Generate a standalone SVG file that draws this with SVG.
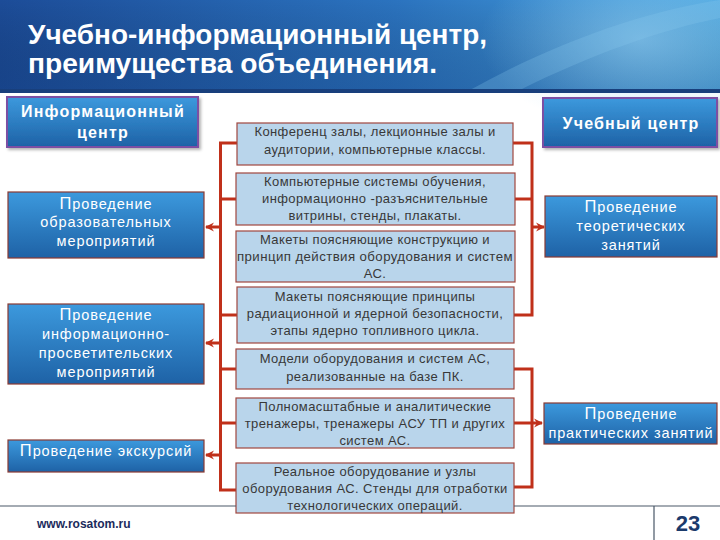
<svg xmlns="http://www.w3.org/2000/svg" width="720" height="540" viewBox="0 0 720 540">
<defs>
<linearGradient id="hdr" x1="0" y1="0" x2="1" y2="0">
<stop offset="0" stop-color="#1C4C98"/>
<stop offset="0.55" stop-color="#2B73BF"/>
<stop offset="1" stop-color="#4AA6E0"/>
</linearGradient>
<linearGradient id="hdrv" x1="0" y1="0" x2="0" y2="1">
<stop offset="0" stop-color="#000" stop-opacity="0"/>
<stop offset="1" stop-color="#0A2A60" stop-opacity="0.25"/>
</linearGradient>
<radialGradient id="swoosh" cx="0.5" cy="0.5" r="0.5">
<stop offset="0" stop-color="#9FD6F5" stop-opacity="0.55"/>
<stop offset="1" stop-color="#9FD6F5" stop-opacity="0"/>
</radialGradient>
<linearGradient id="blue" x1="0" y1="0" x2="0" y2="1">
<stop offset="0" stop-color="#3C99DD"/>
<stop offset="1" stop-color="#1E62A6"/>
</linearGradient>
<marker id="ah" markerWidth="10" markerHeight="10" refX="8" refY="5" orient="auto" markerUnits="userSpaceOnUse">
<path d="M0,0.5 L9,5 L0,9.5 L3,5 Z" fill="#C0301A"/>
</marker>
<filter id="sh" x="-5%" y="-5%" width="115%" height="125%">
<feDropShadow dx="2" dy="2" stdDeviation="1.5" flood-color="#000" flood-opacity="0.3"/>
</filter>
</defs>
<style>
.bb{fill:url(#blue);stroke:#8A3A32;stroke-width:1.2}
.hb{fill:url(#blue);stroke:#7B4FA3;stroke-width:2}
.cb{fill:#B9D5EB;stroke:#A0473F;stroke-width:1.2}
.wt{font-family:"Liberation Sans",Arial,sans-serif;font-size:14.5px;fill:#fff;text-anchor:middle;letter-spacing:0.9px}
.ht{font-family:"Liberation Sans",Arial,sans-serif;font-size:16px;font-weight:bold;fill:#fff;text-anchor:middle;letter-spacing:1.2px}
.ct{font-family:"Liberation Sans",Arial,sans-serif;font-size:13px;fill:#383838;text-anchor:middle;letter-spacing:0.4px}
.big{font-size:16.5px}
.conn{fill:none;stroke:#C0301A;stroke-width:3}
.title{font-family:"Liberation Sans",Arial,sans-serif;font-size:27px;font-weight:bold;fill:#fff}
</style>
<rect x="0" y="0" width="720" height="540" fill="#fff"/>
<g id="header">
<rect x="0" y="0" width="720" height="90" fill="url(#hdr)"/>
<rect x="0" y="0" width="720" height="90" fill="url(#hdrv)"/>
<ellipse cx="640" cy="40" rx="160" ry="90" fill="url(#swoosh)"/>
<path d="M470,90 C560,40 650,10 720,0 L720,18 C660,30 590,55 520,90 Z" fill="#8CCBF0" opacity="0.25"/>
<rect x="0" y="89" width="720" height="4" fill="#183F7C"/>
<text class="title" x="28" y="44" textLength="459" lengthAdjust="spacingAndGlyphs">Учебно-информационный центр,</text>
<text class="title" x="28" y="73" textLength="409" lengthAdjust="spacingAndGlyphs">преимущества объединения.</text>
</g>
<g id="connectors">
<path class="conn" d="M237,143 H220.5 V490 H237"/>
<path class="conn" d="M220.5,199 H236"/>
<path class="conn" d="M220.5,315 H237"/>
<path class="conn" d="M220.5,369 H236"/>
<path class="conn" d="M220.5,423 H236"/>
<path class="conn" d="M220.5,227 H206" marker-end="url(#ah)"/>
<path class="conn" d="M220.5,343 H206" marker-end="url(#ah)"/>
<path class="conn" d="M220.5,455 H206" marker-end="url(#ah)"/>
<path class="conn" d="M513,143 H532 V315 H514"/>
<path class="conn" d="M515,199 H532"/>
<path class="conn" d="M532,227 H544" marker-end="url(#ah)"/>
<path class="conn" d="M514,369 H532 V487 H514"/>
<path class="conn" d="M514,423 H542" marker-end="url(#ah)"/>
</g>
<g id="info-center">
<rect class="hb" x="7" y="97" width="191" height="50" filter="url(#sh)"/>
<text class="ht" x="103" y="117">Информационный</text>
<text class="ht" x="103" y="138">центр</text>
</g>
<g id="left-1">
<rect class="bb" x="8" y="192" width="196" height="66"/>
<text class="wt" x="106" y="209"><tspan class="big">П</tspan>роведение</text>
<text class="wt" x="106" y="227">образовательных</text>
<text class="wt" x="106" y="246">мероприятий</text>
</g>
<g id="left-2">
<rect class="bb" x="8" y="304" width="196" height="80"/>
<text class="wt" x="106" y="320"><tspan class="big">П</tspan>роведение</text>
<text class="wt" x="106" y="339">информационно-</text>
<text class="wt" x="106" y="358">просветительских</text>
<text class="wt" x="106" y="377">мероприятий</text>
</g>
<g id="left-3">
<rect class="bb" x="8" y="440" width="196" height="32"/>
<text class="wt" x="106" y="456"><tspan class="big">П</tspan>роведение экскурсий</text>
</g>
<g id="c1">
<rect class="cb" x="237" y="123" width="276" height="42"/>
<text class="ct" x="375" y="136">Конференц залы, лекционные залы и</text>
<text class="ct" x="375" y="154">аудитории, компьютерные классы.</text>
</g>
<g id="c2">
<rect class="cb" x="236" y="173" width="279" height="52"/>
<text class="ct" x="375" y="186">Компьютерные системы обучения,</text>
<text class="ct" x="375" y="203">информационно -разъяснительные</text>
<text class="ct" x="375" y="220">витрины, стенды, плакаты.</text>
</g>
<g id="c3">
<rect class="cb" x="236" y="231" width="279" height="51"/>
<text class="ct" x="375" y="244">Макеты поясняющие конструкцию и</text>
<text class="ct" x="375" y="261" textLength="276" lengthAdjust="spacingAndGlyphs">принцип действия оборудования и систем</text>
<text class="ct" x="375" y="278">АС.</text>
</g>
<g id="c4">
<rect class="cb" x="237" y="287" width="277" height="56"/>
<text class="ct" x="375" y="301">Макеты поясняющие принципы</text>
<text class="ct" x="375" y="318">радиационной и ядерной безопасности,</text>
<text class="ct" x="375" y="335">этапы ядерно топливного цикла.</text>
</g>
<g id="c5">
<rect class="cb" x="236" y="349" width="278" height="40"/>
<text class="ct" x="375" y="363">Модели оборудования и систем  АС,</text>
<text class="ct" x="375" y="381">реализованные на базе ПК.</text>
</g>
<g id="c6">
<rect class="cb" x="236" y="398" width="278" height="50"/>
<text class="ct" x="375" y="411">Полномасштабные и аналитические</text>
<text class="ct" x="375" y="428">тренажеры, тренажеры АСУ ТП и других</text>
<text class="ct" x="375" y="445">систем АС.</text>
</g>
<g id="c7">
<rect class="cb" x="236" y="463" width="278" height="50"/>
<text class="ct" x="375" y="476">Реальное оборудование и узлы</text>
<text class="ct" x="375" y="493">оборудования АС. Стенды для отработки</text>
<text class="ct" x="375" y="510">технологических операций.</text>
</g>
<g id="study-center">
<rect class="hb" x="543" y="98" width="174" height="49" filter="url(#sh)"/>
<text class="ht" x="631" y="129">Учебный центр</text>
</g>
<g id="right-1">
<rect class="bb" x="545" y="196" width="172" height="61"/>
<text class="wt" x="631" y="212"><tspan class="big">П</tspan>роведение</text>
<text class="wt" x="631" y="231">теоретических</text>
<text class="wt" x="631" y="250">занятий</text>
</g>
<g id="right-2">
<rect class="bb" x="544" y="403" width="173" height="41"/>
<text class="wt" x="631" y="419"><tspan class="big">П</tspan>роведение</text>
<text class="wt" x="631" y="438">практических занятий</text>
</g>
<g id="footer">
<path d="M0,506 H236 M514,506 H720 M654,506 V540" stroke="#4A5868" stroke-width="1.2" fill="none"/>
<text x="37" y="528" font-family="'Liberation Sans',Arial,sans-serif" font-size="12" font-weight="bold" fill="#1B2B5C">www.rosatom.ru</text>
<text x="688" y="531" font-family="'Liberation Sans',Arial,sans-serif" font-size="22" font-weight="bold" fill="#1B3A6B" text-anchor="middle">23</text>
</g>
</svg>
